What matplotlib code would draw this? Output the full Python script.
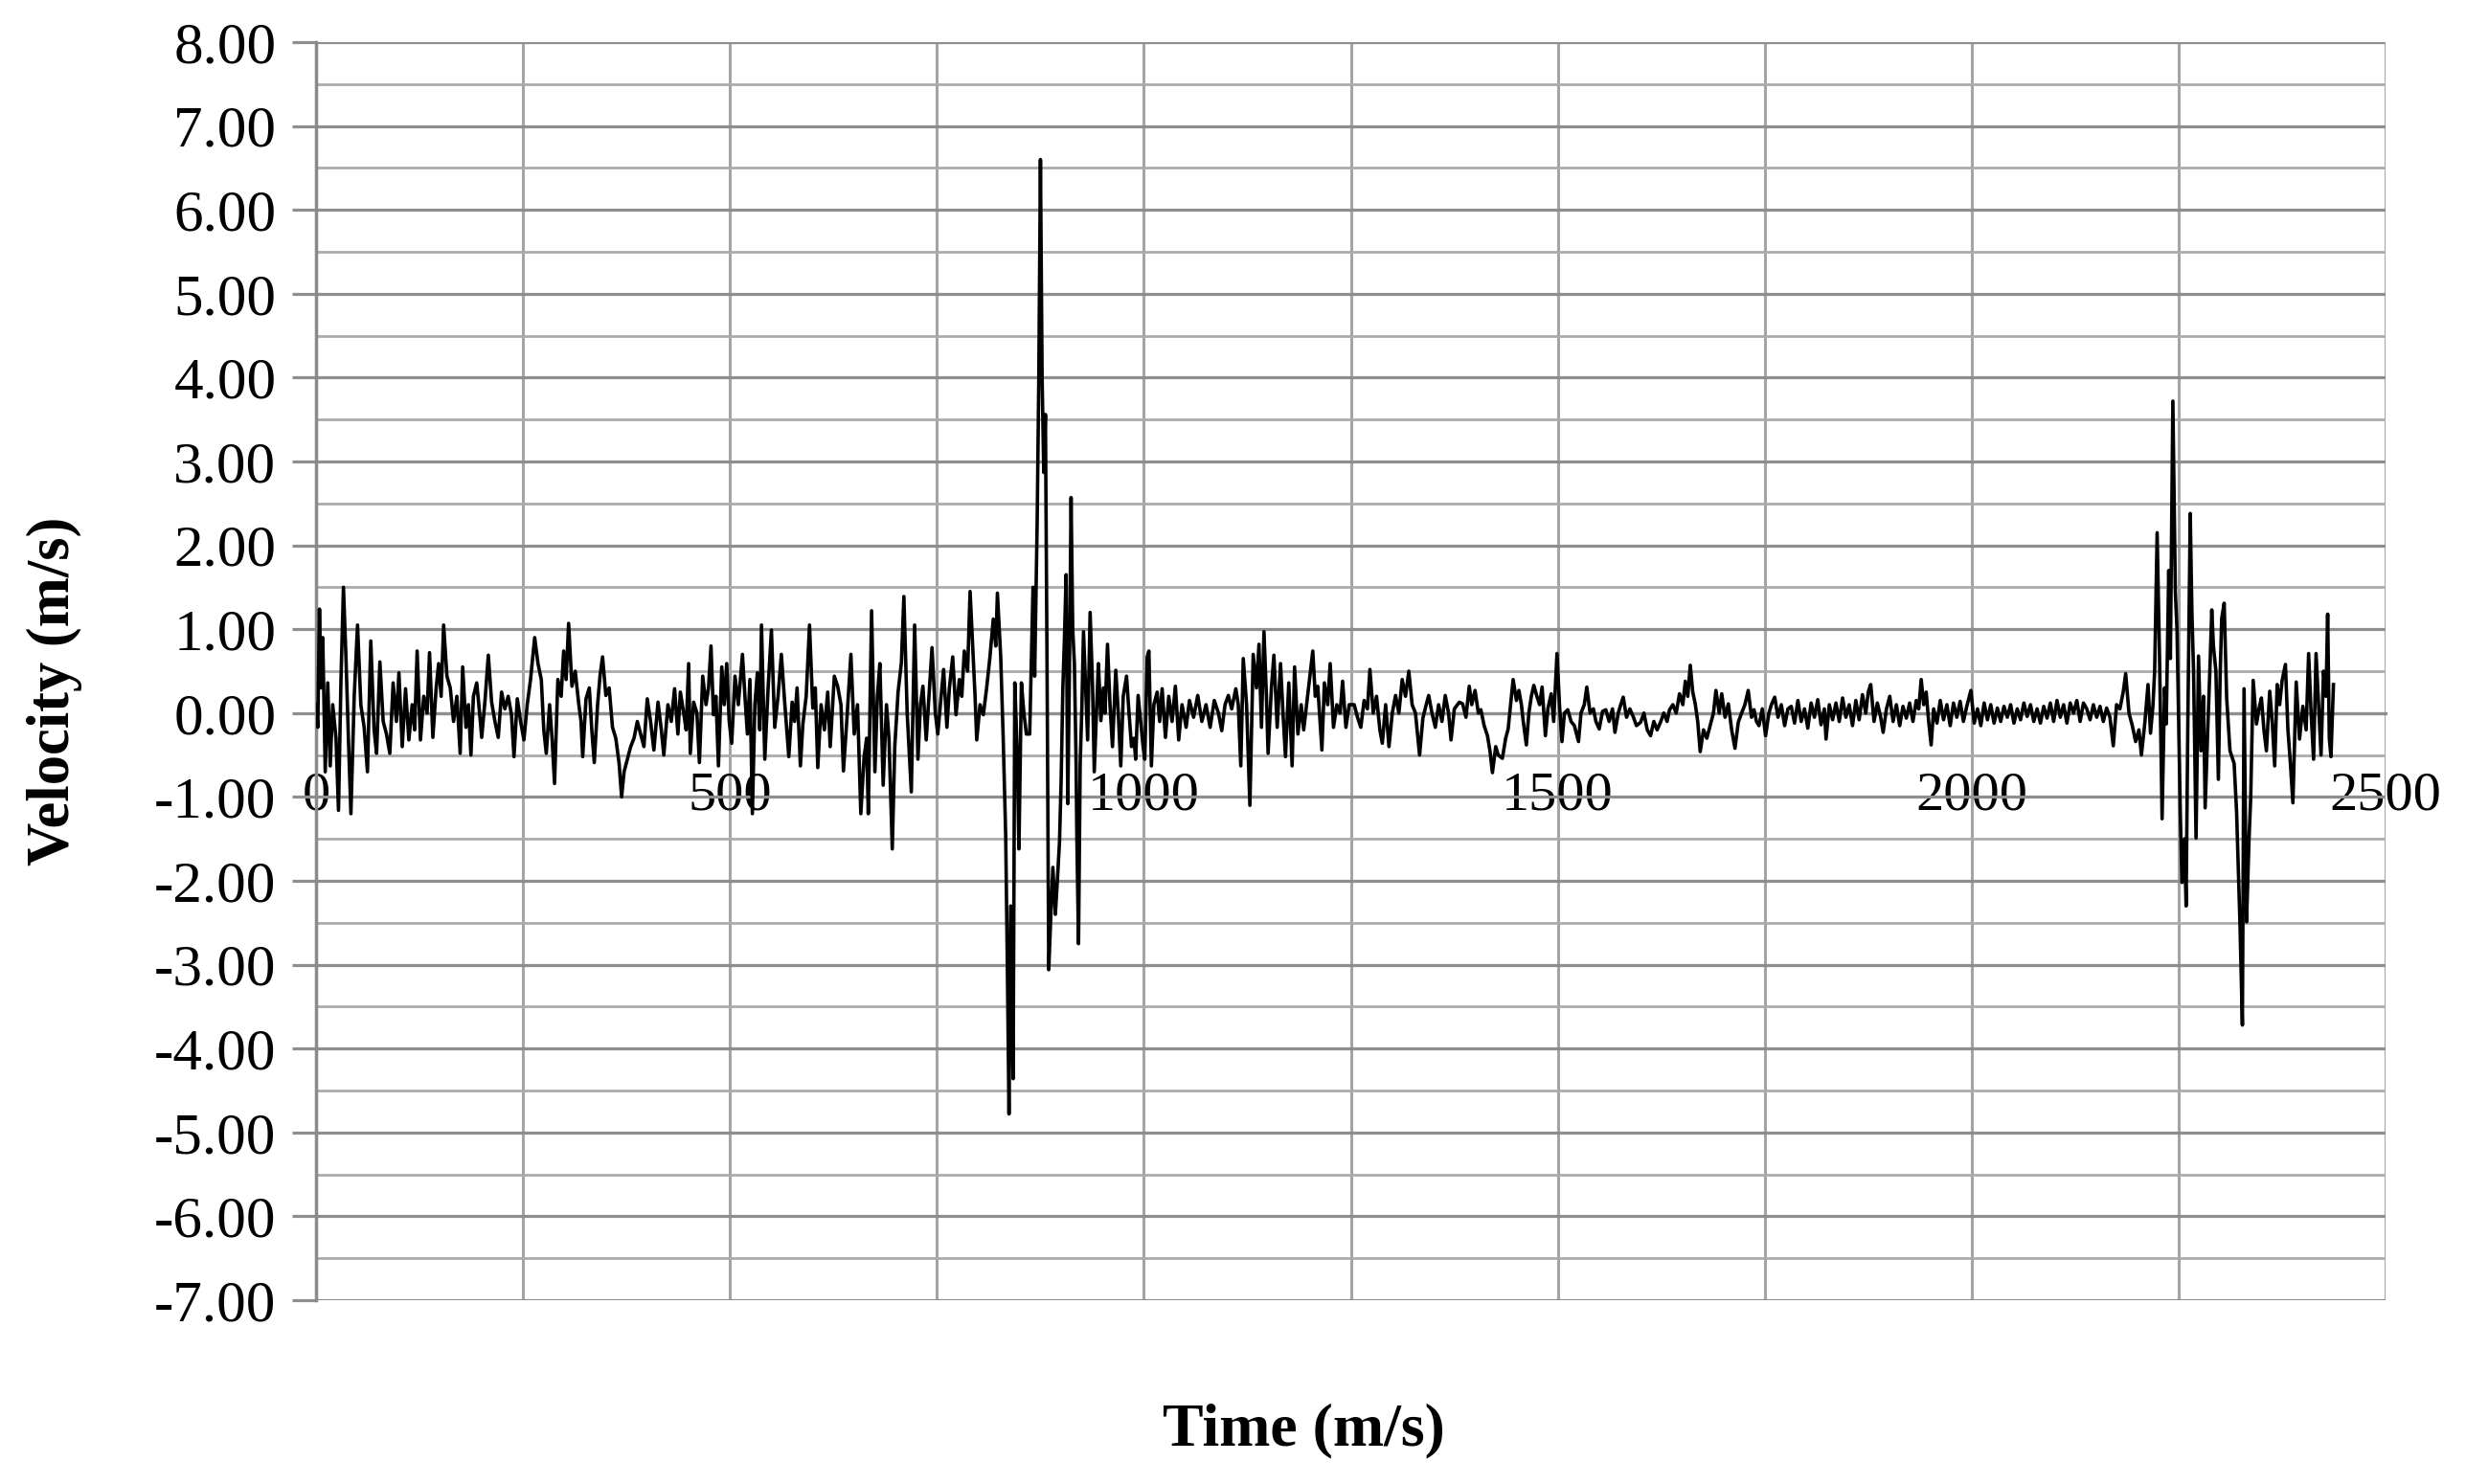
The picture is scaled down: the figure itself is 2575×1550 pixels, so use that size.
import numpy as np
import matplotlib
matplotlib.use("Agg")
import matplotlib.pyplot as plt
from matplotlib.ticker import MultipleLocator, FormatStrFormatter

# dados (tempo e velocidade)
time_ms = [
    0, 2, 4, 6, 8, 11, 14, 17, 20, 24,
    27, 30, 33, 36, 39, 42, 46, 50, 54, 58,
    62, 66, 70, 73, 77, 81, 85, 89, 93, 97,
    100, 104, 108, 112, 116, 119, 122, 126, 130, 134,
    137, 141, 145, 148, 151, 154, 158, 162, 166, 170,
    174, 177, 181, 184, 187, 190, 194, 197, 200, 204,
    208, 212, 216, 220, 224, 228, 232, 236, 239, 243,
    247, 251, 255, 259, 264, 268, 272, 275, 278, 282,
    285, 288, 292, 296, 299, 302, 305, 309, 313, 317,
    320, 322, 326, 330, 333, 336, 340, 343, 346, 350,
    354, 358, 362, 366, 369, 372, 376, 380, 384, 388,
    392, 396, 400, 404, 408, 413, 417, 420, 425, 429,
    433, 437, 440, 444, 447, 450, 452, 456, 460, 463,
    467, 471, 474, 477, 480, 483, 486, 490, 493, 496,
    499, 502, 506, 510, 515, 518, 521, 524, 527, 530,
    533, 536, 538, 542, 546, 550, 554, 558, 562, 566,
    571, 575, 578, 581, 585, 588, 592, 596, 600, 603,
    606, 610, 614, 618, 621, 626, 630, 634, 637, 641,
    646, 650, 654, 658, 662, 665, 667, 671, 675, 678,
    681, 685, 689, 692, 696, 699, 703, 707, 710, 714,
    719, 723, 727, 730, 733, 737, 741, 744, 748, 751,
    755, 758, 762, 765, 769, 773, 777, 780, 783, 787,
    790, 793, 796, 798, 802, 806, 810, 814, 818, 821,
    823, 827, 830, 833, 835, 837, 839, 842, 844, 847,
    849, 852, 855, 858, 862, 864, 866, 868, 871, 873,
    875, 877, 879, 881, 883, 885, 888, 890, 893, 895,
    898, 900, 902, 904, 906, 908, 910, 912, 914, 916,
    918, 919, 921, 923, 925, 927, 930, 932, 935, 938,
    940, 943, 945, 948, 951, 953, 956, 959, 962, 966,
    969, 972, 975, 979, 982, 985, 988, 990, 993, 996,
    999, 1001, 1004, 1006, 1009, 1012, 1016, 1019, 1022, 1026,
    1030, 1034, 1038, 1042, 1046, 1051, 1055, 1060, 1065, 1070,
    1075, 1080, 1085, 1090, 1094, 1098, 1102, 1106, 1111, 1114,
    1117, 1120, 1124, 1128, 1132, 1136, 1139, 1142, 1145, 1148,
    1150, 1154, 1157, 1161, 1165, 1168, 1171, 1175, 1179, 1182,
    1186, 1190, 1193, 1196, 1200, 1204, 1207, 1210, 1215, 1218,
    1222, 1225, 1229, 1233, 1237, 1240, 1244, 1248, 1254, 1258,
    1262, 1266, 1270, 1273, 1277, 1281, 1285, 1288, 1292, 1296,
    1300, 1304, 1308, 1312, 1316, 1320, 1324, 1328, 1333, 1337,
    1341, 1344, 1348, 1352, 1356, 1360, 1364, 1368, 1371, 1375,
    1381, 1385, 1389, 1393, 1396, 1400, 1404, 1407, 1411, 1415,
    1418, 1421, 1425, 1428, 1433, 1437, 1440, 1443, 1446, 1450,
    1453, 1456, 1458, 1462, 1465, 1468, 1471, 1475, 1478, 1481,
    1485, 1488, 1492, 1495, 1499, 1502, 1505, 1508, 1512, 1516,
    1520, 1525, 1528, 1532, 1535, 1539, 1543, 1546, 1550, 1554,
    1558, 1562, 1566, 1569, 1573, 1576, 1579, 1583, 1587, 1591,
    1595, 1600, 1604, 1608, 1612, 1616, 1620, 1624, 1628, 1632,
    1635, 1639, 1643, 1647, 1651, 1654, 1657, 1660, 1663, 1666,
    1669, 1672, 1676, 1680, 1684, 1688, 1691, 1695, 1698, 1702,
    1706, 1710, 1714, 1718, 1722, 1726, 1730, 1734, 1737, 1740,
    1743, 1747, 1751, 1755, 1758, 1762, 1766, 1770, 1774, 1778,
    1782, 1786, 1790, 1794, 1798, 1802, 1806, 1810, 1814, 1818,
    1822, 1824, 1828, 1832, 1836, 1840, 1844, 1848, 1852, 1856,
    1860, 1864, 1868, 1872, 1875, 1878, 1882, 1886, 1890, 1893,
    1897, 1901, 1905, 1909, 1913, 1917, 1921, 1925, 1929, 1933,
    1936, 1939, 1942, 1945, 1948, 1951, 1954, 1958, 1962, 1966,
    1970, 1974, 1978, 1982, 1986, 1990, 1994, 1999, 2003, 2007,
    2011, 2015, 2019, 2023, 2027, 2031, 2035, 2039, 2043, 2047,
    2051, 2055, 2059, 2063, 2067, 2071, 2075, 2079, 2083, 2087,
    2091, 2095, 2099, 2103, 2107, 2111, 2115, 2119, 2123, 2127,
    2131, 2135, 2139, 2143, 2147, 2151, 2155, 2159, 2163, 2167,
    2171, 2175, 2179, 2183, 2186, 2190, 2194, 2198, 2202, 2205,
    2209, 2213, 2216, 2219, 2221, 2224, 2227, 2230, 2233, 2235,
    2238, 2240, 2243, 2246, 2248, 2250, 2252, 2254, 2257, 2259,
    2261, 2264, 2266, 2268, 2271, 2274, 2277, 2280, 2282, 2285,
    2288, 2290, 2292, 2295, 2298, 2300, 2302, 2305, 2308, 2312,
    2317, 2320, 2324, 2327, 2329, 2332, 2335, 2337, 2340, 2344,
    2347, 2350, 2353, 2356, 2360, 2363, 2366, 2369, 2372, 2375,
    2379, 2382, 2385, 2388, 2392, 2396, 2400, 2404, 2407, 2410,
    2413, 2416, 2419, 2422, 2425, 2428, 2430, 2432, 2434, 2437,
]

velocity = [
    0.10, -0.17, 1.24, 0.30, 0.90, -0.70, 0.36, -0.63, 0.10, -0.30,
    -1.16, 0.40, 1.50, 0.67, -0.30, -1.20, 0.20, 1.05, 0.10, -0.17,
    -0.70, 0.86, -0.20, -0.48, 0.61, -0.10, -0.25, -0.48, 0.36, -0.10,
    0.48, -0.40, 0.29, -0.32, 0.10, -0.20, 0.74, -0.32, 0.20, 0.00,
    0.72, -0.29, 0.30, 0.59, 0.20, 1.05, 0.44, 0.30, -0.10, 0.20,
    -0.48, 0.55, -0.17, 0.10, -0.50, 0.20, 0.36, 0.05, -0.29, 0.15,
    0.69, 0.13, -0.10, -0.29, 0.25, 0.05, 0.20, -0.02, -0.52, 0.17,
    -0.10, -0.32, 0.10, 0.40, 0.90, 0.59, 0.40, -0.20, -0.48, 0.10,
    -0.30, -0.84, 0.40, 0.20, 0.74, 0.40, 1.07, 0.32, 0.50, 0.13,
    -0.10, -0.52, 0.17, 0.30, -0.20, -0.59, 0.10, 0.45, 0.67, 0.21,
    0.30, -0.17, -0.30, -0.60, -1.00, -0.70, -0.55, -0.40, -0.30, -0.10,
    -0.25, -0.40, 0.17, -0.10, -0.44, 0.13, -0.20, -0.50, 0.10, -0.10,
    0.29, -0.25, 0.25, 0.00, -0.20, 0.59, -0.48, 0.13, 0.00, -0.59,
    0.44, 0.10, 0.30, 0.80, -0.02, 0.20, -0.63, 0.55, 0.10, 0.59,
    -0.10, -0.36, 0.44, 0.10, 0.70, 0.20, -0.25, 0.40, -1.20, 0.10,
    0.48, -0.20, 1.05, -0.55, 0.30, 0.99, -0.17, 0.20, 0.70, 0.13,
    -0.52, 0.13, -0.10, 0.30, -0.63, -0.13, 0.20, 1.05, 0.06, 0.30,
    -0.65, 0.10, -0.20, 0.25, -0.40, 0.44, 0.32, 0.10, -0.69, -0.10,
    0.70, -0.25, 0.10, -1.20, -0.52, -0.30, -1.20, 1.22, -0.70, 0.20,
    0.59, -0.86, 0.10, -0.30, -1.62, -0.40, 0.25, 0.60, 1.39, 0.00,
    -0.94, 1.05, -0.55, 0.10, 0.32, -0.32, 0.30, 0.78, 0.00, -0.25,
    0.20, 0.52, -0.17, 0.30, 0.67, -0.02, 0.40, 0.20, 0.74, 0.50,
    1.45, 0.82, 0.20, -0.32, 0.10, -0.02, 0.30, 0.67, 1.12, 0.80,
    1.43, 0.67, -0.30, -1.46, -3.00, -4.78, -2.30, -4.36, 0.36, -0.50,
    -1.62, 0.36, 0.00, -0.25, -0.25, 0.60, 1.50, 0.44, 2.26, 4.00,
    6.60, 4.00, 2.87, 3.56, 0.50, -3.06, -2.30, -1.84, -2.40, -2.07,
    -1.54, -0.80, 0.28, 0.90, 1.65, -1.08, 0.50, 2.57, 1.00, 0.59,
    -0.55, -1.50, -2.75, -0.60, 0.06, 0.97, 0.20, -0.32, 1.20, 0.30,
    -0.70, 0.10, 0.59, -0.09, 0.30, 0.00, 0.82, 0.10, -0.40, 0.51,
    0.00, -0.63, 0.20, 0.44, 0.00, -0.40, -0.30, -0.55, 0.21, -0.10,
    -0.40, -0.55, 0.67, 0.74, -0.63, 0.10, 0.25, -0.10, 0.29, -0.29,
    0.20, -0.10, 0.32, -0.32, 0.10, -0.17, 0.15, -0.05, 0.21, -0.10,
    0.10, -0.17, 0.15, 0.00, -0.21, 0.10, 0.21, 0.05, 0.29, 0.10,
    -0.63, 0.65, 0.10, -1.10, 0.70, 0.30, 0.82, -0.17, 0.97, 0.20,
    -0.48, 0.30, 0.69, -0.17, 0.59, 0.00, -0.52, 0.36, -0.63, 0.55,
    -0.25, 0.10, -0.20, 0.06, 0.40, 0.74, 0.20, 0.32, -0.44, 0.36,
    0.10, 0.59, -0.17, 0.10, 0.00, 0.38, -0.17, 0.10, 0.10, -0.05,
    -0.17, 0.15, 0.05, 0.52, 0.00, 0.20, -0.20, -0.36, 0.10, -0.40,
    0.00, 0.21, 0.00, 0.40, 0.20, 0.50, 0.10, 0.00, -0.50, -0.06,
    0.10, 0.21, 0.00, -0.17, 0.10, -0.10, 0.21, 0.00, -0.32, 0.05,
    0.13, 0.11, -0.05, 0.32, 0.10, 0.27, 0.00, 0.04, -0.15, -0.27,
    -0.45, -0.71, -0.40, -0.50, -0.54, -0.30, -0.19, 0.10, 0.40, 0.15,
    0.27, 0.10, -0.08, -0.38, 0.00, 0.20, 0.33, 0.19, 0.10, 0.31,
    -0.27, 0.05, 0.23, -0.10, 0.71, 0.10, -0.34, 0.00, 0.04, -0.10,
    -0.15, -0.34, 0.00, 0.10, 0.31, 0.00, 0.05, -0.10, -0.19, 0.02,
    0.04, -0.10, 0.05, -0.23, 0.00, 0.10, 0.19, -0.05, 0.05, -0.04,
    -0.15, -0.11, 0.00, -0.20, -0.27, -0.10, -0.20, -0.11, 0.00, -0.10,
    0.04, 0.10, 0.00, 0.23, 0.10, 0.38, 0.20, 0.57, 0.25, 0.11,
    -0.10, -0.46, -0.20, -0.30, -0.15, 0.00, 0.27, 0.00, 0.23, -0.05,
    0.11, -0.20, -0.42, -0.11, 0.00, 0.10, 0.27, -0.05, 0.04, -0.10,
    -0.15, 0.05, -0.27, 0.00, 0.10, 0.19, -0.05, 0.10, -0.15, 0.05,
    0.08, -0.12, 0.15, -0.10, 0.05, -0.18, 0.12, -0.05, 0.16, -0.14,
    0.05, -0.31, 0.10, -0.08, 0.12, -0.10, 0.18, -0.05, 0.10, -0.15,
    0.15, -0.08, 0.22, 0.00, 0.25, 0.34, -0.10, 0.12, -0.05, -0.23,
    0.05, 0.20, -0.10, 0.10, -0.15, 0.08, -0.06, 0.12, -0.10, 0.15,
    0.05, 0.40, 0.10, 0.25, -0.10, -0.38, 0.05, -0.12, 0.15, -0.08,
    0.10, -0.15, 0.12, -0.05, 0.14, -0.10, 0.08, 0.27, -0.12, 0.05,
    -0.15, 0.12, -0.08, 0.10, -0.12, 0.06, -0.10, 0.08, -0.05, 0.10,
    -0.12, 0.05, -0.08, 0.12, -0.04, 0.10, -0.10, 0.05, -0.12, 0.08,
    -0.06, 0.12, -0.10, 0.15, -0.05, 0.10, -0.12, 0.12, 0.00, 0.15,
    -0.10, 0.12, 0.05, -0.08, 0.10, -0.05, 0.08, -0.10, 0.06, -0.05,
    -0.39, 0.10, 0.05, 0.25, 0.47, 0.00, -0.15, -0.34, -0.20, -0.50,
    -0.13, 0.34, -0.24, 0.10, 0.50, 2.15, 0.60, -1.26, 0.30, -0.13,
    1.70, 0.65, 3.72, 1.44, 1.00, -0.13, -1.20, -2.02, -1.50, -2.30,
    -0.18, 2.38, 1.20, 0.50, -1.49, 0.68, -0.45, 0.20, -1.13, -0.24,
    0.60, 1.23, 0.80, 0.50, -0.79, 0.40, 1.13, 1.31, 0.18, -0.45,
    -0.60, -1.18, -2.49, -3.72, 0.29, -2.49, -1.50, -1.02, 0.39, -0.13,
    0.05, 0.18, -0.20, -0.45, 0.26, -0.10, -0.63, 0.34, 0.10, 0.39,
    0.58, -0.20, -0.60, -1.07, 0.37, -0.31, 0.08, -0.20, 0.71, 0.00,
    -0.55, 0.71, 0.10, -0.50, 0.50, 0.20, 1.18, -0.30, -0.52, 0.34,
]

x_ticks = [0, 500, 1000, 1500, 2000, 2500]

df_t = np.array(time_ms)
df_v = np.array(velocity)
assert len(df_t) == len(df_v)

plt.rcParams['font.family'] = ['Liberation Serif', 'DejaVu Serif']
plt.rcParams['axes.unicode_minus'] = False

fig = plt.figure(figsize=(25.75, 15.5), dpi=100)
ax = fig.add_axes([0.1282, 0.1239, 0.8392, 0.8477])

ax.plot(df_t, df_v, color='#000000', linewidth=2.6, zorder=3)

ax.set_xlim(0, 2500)
ax.set_ylim(-7, 8)

# grade
ax.xaxis.set_major_locator(MultipleLocator(500))
ax.xaxis.set_minor_locator(MultipleLocator(250))
ax.yaxis.set_major_locator(MultipleLocator(1))
ax.yaxis.set_minor_locator(MultipleLocator(0.5))
ax.yaxis.set_major_formatter(FormatStrFormatter('%.2f'))
ax.set_xticks(x_ticks)
ax.set_xticklabels([str(v) for v in x_ticks])

ax.grid(axis='y', which='major', color='#8e8e8e', linewidth=2.3)
ax.grid(axis='y', which='minor', color='#ababab', linewidth=2.0)
ax.grid(axis='x', which='both', color='#a4a4a4', linewidth=2.2)
ax.set_axisbelow(True)

for s in ['top', 'right']:
    ax.spines[s].set_visible(False)
ax.spines['left'].set_color('#8a8a8a')
ax.spines['left'].set_linewidth(2.5)
ax.spines['bottom'].set_position(('data', 0))
ax.spines['bottom'].set_color('#8e8e8e')
ax.spines['bottom'].set_linewidth(2.3)

ax.tick_params(axis='y', which='major', direction='out', length=18, width=2.3,
               color='#8e8e8e', pad=12, labelsize=44)
ax.tick_params(axis='y', which='minor', length=0)
ax.tick_params(axis='x', which='both', length=0, pad=44, labelsize=42)

fig.text(0.022, 0.534, 'Velocity (m/s)', rotation=90, ha='center', va='center',
         fontsize=45, fontweight='bold')
fig.text(0.5286, 0.036, 'Time (m/s)', ha='center', va='center',
         fontsize=46, fontweight='bold')

fig.savefig('out.png', dpi=100)
